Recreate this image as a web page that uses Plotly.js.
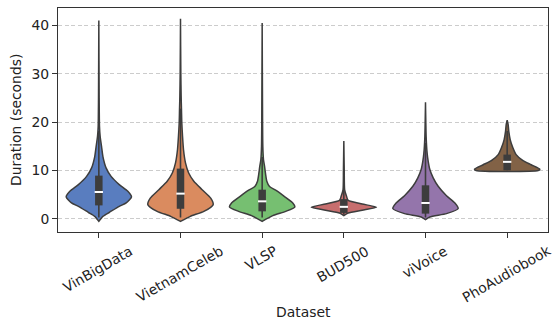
<!DOCTYPE html>
<html>
<head>
<meta charset="utf-8">
<script src="https://cdn.plot.ly/plotly-3.0.1.min.js"></script>
<style>html,body{margin:0;padding:0;background:#fff;}#chart{width:555px;height:327px;}</style>
</head>
<body>
<div id="chart"></div>
<script>
// Categories and colours
const categories = ["VinBigData", "VietnamCeleb", "VLSP", "BUD500", "viVoice", "PhoAudiobook"];
const colors = ["#597dbf", "#da8b5f", "#76bf71", "#c76e6e", "#9475ab", "#826246"];

// Violin density profiles: duration levels (s) and half-widths (category units)
const vinbigdataY = [-0.5, 0.54, 1.37, 2.6, 3.3, 4.55, 5.7, 7.1, 8.8, 10.5, 12.9, 15, 17.1, 19.1, 25, 41.0];
const vinbigdataW = [0, 0.05, 0.13, 0.25, 0.335, 0.40, 0.355, 0.25, 0.15, 0.09, 0.05, 0.033, 0.016, 0.008, 0.004, 0];
const vietnamcelebY = [-0.5, 0.54, 1.57, 2.95, 4.3, 6.05, 7.8, 9.5, 11.6, 14.3, 17.1, 19.8, 22.6, 25.4, 30, 41.4];
const vietnamcelebW = [0, 0.12, 0.286, 0.40, 0.37, 0.265, 0.163, 0.10, 0.061, 0.037, 0.025, 0.016, 0.012, 0.008, 0.004, 0];
const vlspY = [-0.5, 0.68, 1.57, 2.47, 3.3, 4.67, 5.9, 6.7, 7.8, 9.5, 10.9, 12.25, 15, 20, 40.5];
const vlspW = [0, 0.13, 0.29, 0.40, 0.375, 0.27, 0.17, 0.09, 0.057, 0.04, 0.029, 0.016, 0.008, 0.005, 0];
const bud500Y = [0.68, 1.24, 1.8, 2.4, 3.1, 3.85, 4.67, 6, 10, 16.1];
const bud500W = [0, 0.053, 0.225, 0.40, 0.225, 0.053, 0.033, 0.01, 0.005, 0];
const vivoiceY = [-0.15, 0.4, 1.1, 2.13, 3.3, 4.8, 6.75, 8.5, 10.2, 11.9, 13.6, 17, 24.1];
const vivoiceW = [0, 0.053, 0.257, 0.40, 0.36, 0.257, 0.155, 0.094, 0.053, 0.033, 0.02, 0.008, 0];
const phoaudiobookY = [10.0, 10.3, 11.2, 12.1, 13.3, 14.7, 16.4, 18.1, 19.5, 20.4];
const phoaudiobookW = [0.38, 0.40, 0.294, 0.19, 0.11, 0.07, 0.037, 0.02, 0.012, 0];

// Inner box statistics (seconds)
const q1 = [2.8, 2.1, 1.57, 1.24, 1.1, 10.05];
const medians = [5.57, 5.23, 3.64, 2.5, 3.3, 11.8];
const q3 = [8.95, 10.4, 6.05, 4.1, 6.95, 13.3];
const whiskerLow = [0.3, 0.3, 0.3, 0.9, 0.3, 10.05];
const whiskerHigh = [18.2, 22.8, 12.8, 8.4, 15.7, 18.2];

const yTicks = [0, 10, 20, 30, 40];

const profiles = [
  [vinbigdataY, vinbigdataW], [vietnamcelebY, vietnamcelebW], [vlspY, vlspW],
  [bud500Y, bud500W], [vivoiceY, vivoiceW], [phoaudiobookY, phoaudiobookW]
];

const lineColor = "#3d3d3d";
const traces = [];
profiles.forEach(([ys, ws], i) => {
  const xs = [], yy = [];
  ys.forEach((y, k) => { xs.push(i + ws[k]); yy.push(y); });
  for (let k = ys.length - 1; k >= 0; k--) { xs.push(i - ws[k]); yy.push(ys[k]); }
  xs.push(xs[0]); yy.push(yy[0]);
  traces.push({
    type: "scatter", mode: "lines", x: xs, y: yy, fill: "toself",
    fillcolor: colors[i], line: {color: lineColor, width: 1.5, shape: "spline", smoothing: 0.6},
    hoverinfo: "skip", showlegend: false
  });
});
categories.forEach((c, i) => {
  traces.push({type: "scatter", mode: "lines", x: [i, i], y: [whiskerLow[i], whiskerHigh[i]],
    line: {color: lineColor, width: 1.6}, showlegend: false, hoverinfo: "skip"});
  traces.push({type: "scatter", mode: "lines", x: [i, i], y: [q1[i], q3[i]],
    line: {color: lineColor, width: 7.5}, showlegend: false, hoverinfo: "skip"});
  traces.push({type: "scatter", mode: "markers", x: [i], y: [medians[i]],
    marker: {symbol: "line-ew", size: 6, color: "white", line: {color: "white", width: 2}},
    showlegend: false, hoverinfo: "skip"});
});

const font = {family: "DejaVu Sans", size: 13.9, color: "#222"};

// measure label widths so that rotated labels are top-aligned like matplotlib
const ctx = document.createElement("canvas").getContext("2d");
ctx.font = "13.9px 'DejaVu Sans'";
const plotBottom = 327 - 95;
const annotations = categories.map((c, i) => {
  const w = ctx.measureText(c).width;
  const h = w * 0.5 + 9;
  const centerY = 245 + h / 2;
  return {
    text: c, x: i, xref: "x", y: 0, yref: "paper", xanchor: "center", yanchor: "middle",
    xshift: -1, yshift: -(centerY - plotBottom), textangle: -30, showarrow: false, font: font
  };
});
annotations.push({text: "Dataset", x: 0.5, xref: "paper", y: 0, yref: "paper",
  xanchor: "center", yanchor: "middle", yshift: -80, showarrow: false, font: font});
annotations.push({text: "Duration (seconds)", x: 0, xref: "paper", y: 0.5, yref: "paper",
  xanchor: "center", yanchor: "middle", xshift: -42, textangle: -90, showarrow: false, font: font});

const layout = {
  width: 555, height: 327,
  margin: {l: 58, r: 7, t: 8, b: 95},
  paper_bgcolor: "#fff", plot_bgcolor: "#fff",
  font: font,
  showlegend: false,
  xaxis: {
    range: [-0.5, 5.5], tickvals: [0, 1, 2, 3, 4, 5], showticklabels: false,
    ticks: "outside", ticklen: 5, tickwidth: 1, tickcolor: "#333",
    showgrid: false, zeroline: false, showline: true, linecolor: "#333", linewidth: 1, mirror: true
  },
  yaxis: {
    range: [-2.7, 43.6], tickvals: yTicks, ticktext: yTicks.map(String),
    ticks: "outside", ticklen: 5, tickwidth: 1, tickcolor: "#333", tickfont: font,
    showgrid: true, gridcolor: "#cccccc", gridwidth: 1, griddash: "4px,2.5px",
    zeroline: false, showline: true, linecolor: "#333", linewidth: 1, mirror: true
  },
  annotations: annotations
};

Plotly.newPlot("chart", traces, layout, {staticPlot: true, displayModeBar: false});
</script>
</body>
</html>
